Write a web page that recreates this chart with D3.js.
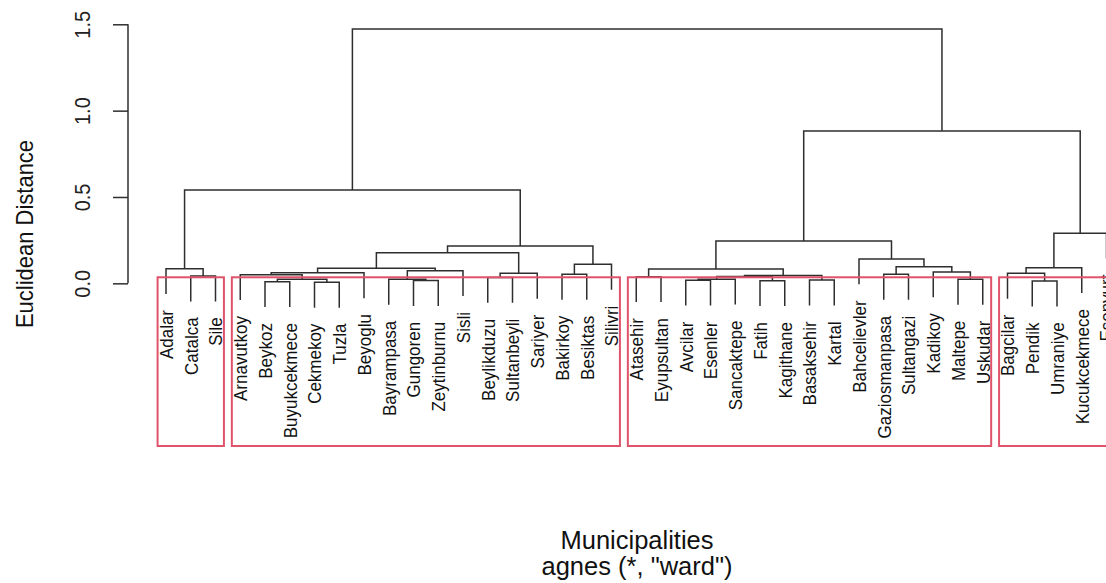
<!DOCTYPE html>
<html>
<head>
<meta charset="utf-8">
<script src="https://cdn.jsdelivr.net/npm/d3@7"></script>
<style>
  html, body { margin: 0; padding: 0; background: #fff; }
  svg { display: block; font-family: "Liberation Sans", Arial, Helvetica, sans-serif; }
</style>
</head>
<body>
<svg id="chart" width="1106" height="583"></svg>
<script>
// Leaf order of the dendrogram (left to right)
const labels = [
  "Adalar", "Catalca", "Sile",
  "Arnavutkoy", "Beykoz", "Buyukcekmece", "Cekmekoy", "Tuzla", "Beyoglu",
  "Bayrampasa", "Gungoren", "Zeytinburnu", "Sisli", "Beylikduzu", "Sultanbeyli",
  "Sariyer", "Bakirkoy", "Besiktas", "Silivri",
  "Atasehir", "Eyupsultan", "Avcilar", "Esenler", "Sancaktepe", "Fatih",
  "Kagithane", "Basaksehir", "Kartal", "Bahcelievler", "Gaziosmanpasa",
  "Sultangazi", "Kadikoy", "Maltepe", "Uskudar",
  "Bagcilar", "Pendik", "Umraniye", "Kucukcekmece", "Esenyurt"
];

// Merge table (hclust style): negative = leaf number (1-based in labels),
// positive = an earlier merge step (1-based)
const merges = [
  [-7, -8],    // 1  Cekmekoy + Tuzla
  [-5, -6],    // 2  Beykoz + Buyukcekmece
  [-36, -37],  // 3  Pendik + Umraniye
  [-25, -26],  // 4  Fatih + Kagithane
  [-11, -12],  // 5  Gungoren + Zeytinburnu
  [-22, -23],  // 6  Avcilar + Esenler
  [-27, -28],  // 7  Basaksehir + Kartal
  [2, 1],      // 8
  [-10, 5],    // 9
  [6, -24],    // 10
  [-33, -34],  // 11 Maltepe + Uskudar
  [-14, -15],  // 12 Beylikduzu + Sultanbeyli
  [-20, -21],  // 13 Atasehir + Eyupsultan
  [10, 4],     // 14
  [-2, -3],    // 15 Catalca + Sile
  [14, 7],     // 16
  [-4, 8],     // 17
  [-30, -31],  // 18 Gaziosmanpasa + Sultangazi
  [-17, -18],  // 19 Bakirkoy + Besiktas
  [12, -16],   // 20
  [-35, 3],    // 21
  [17, -9],    // 22
  [-32, 11],   // 23
  [9, -13],    // 24
  [13, 16],    // 25
  [-1, 15],    // 26
  [22, 24],    // 27
  [21, -38],   // 28
  [18, 23],    // 29
  [19, -19],   // 30
  [-29, 29],   // 31
  [27, 20],    // 32
  [32, 30],    // 33
  [25, 31],    // 34
  [28, -39],   // 35
  [26, 33],    // 36
  [34, 35],    // 37
  [36, 37]     // 38
];

// Height of each merge step
const heights = [
  0.006, 0.009, 0.013, 0.015, 0.016, 0.018, 0.019, 0.023, 0.023, 0.024,
  0.023, 0.034, 0.038, 0.040, 0.042, 0.046, 0.050, 0.052, 0.052, 0.058,
  0.058, 0.061, 0.066, 0.073, 0.083, 0.085, 0.087, 0.090, 0.096, 0.110,
  0.141, 0.177, 0.216, 0.245, 0.290, 0.540, 0.882, 1.473
];

// Number of leaves in each of the four highlighted groups (left to right)
const clusterSizes = [3, 16, 15, 5];
const cutHeight = 0.035;
const hang = 0.1;

const yTicks = [0, 0.5, 1.0, 1.5];
const yTitle = "Euclidean Distance";
const xTitle = "Municipalities";
const subTitle = 'agnes (*, "ward")';

// ---------------------------------------------------------------
const svg = d3.select("#chart");
const axisX = 128;
const lineColor = "#2e2e2e";

const x = d3.scaleLinear().domain([0, labels.length - 1]).range([166, 1106.5]);
const y = d3.scaleLinear().domain([-0.942, 1.5]).range([446, 24.3]);

const hangAmt = hang * (d3.max(heights) - d3.min(heights));

// x position of every merge = midpoint of its two children
const nodeX = [];
merges.forEach(([a, b], k) => {
  const xa = a < 0 ? x(-a - 1) : nodeX[a - 1];
  const xb = b < 0 ? x(-b - 1) : nodeX[b - 1];
  nodeX[k] = (xa + xb) / 2;
});

// Leaf hanging ends
const leafBottom = new Array(labels.length);
merges.forEach(([a, b], k) => {
  [a, b].forEach(c => { if (c < 0) leafBottom[-c - 1] = heights[k] - hangAmt; });
});

function childPos(c) {
  return c < 0
    ? { cx: x(-c - 1), ch: leafBottom[-c - 1] }
    : { cx: nodeX[c - 1], ch: heights[c - 1] };
}

// Dendrogram branches
const gTree = svg.append("g")
  .attr("fill", "none")
  .attr("stroke", lineColor)
  .attr("stroke-width", 1.5);

gTree.selectAll("path")
  .data(merges)
  .join("path")
  .attr("d", ([a, b], k) => {
    const A = childPos(a), B = childPos(b), h = y(heights[k]);
    return `M${A.cx},${y(A.ch)}V${h}H${B.cx}V${y(B.ch)}`;
  });

// Leaf labels (vertical, reading upward)
svg.append("g")
  .attr("font-size", 17)
  .attr("fill", "#111")
  .selectAll("text")
  .data(labels)
  .join("text")
  .attr("transform", (d, i) =>
    `translate(${x(i)},${y(leafBottom[i]) + 16}) rotate(-90) scale(1,1.12)`)
  .attr("text-anchor", "end")
  .attr("dy", "0.36em")
  .text(d => d);

// Group rectangles
let start = 0;
const rects = clusterSizes.map(n => {
  const r = { s: start, e: start + n - 1 };
  start += n;
  return r;
});
svg.append("g")
  .attr("fill", "none")
  .attr("stroke", "#DF536B")
  .attr("stroke-width", 2)
  .selectAll("rect")
  .data(rects)
  .join("rect")
  .attr("x", d => x(d.s - 0.34))
  .attr("width", d => x(d.e + 0.34) - x(d.s - 0.34))
  .attr("y", y(cutHeight))
  .attr("height", y.range()[0] - y(cutHeight));

// Y axis
const axis = d3.axisLeft(y)
  .tickValues(yTicks)
  .tickFormat(d3.format(".1f"))
  .tickSize(15)
  .tickSizeOuter(0);

const gAxis = svg.append("g")
  .attr("transform", `translate(${axisX},0)`)
  .call(axis);

gAxis.select(".domain")
  .attr("d", `M0,${y(yTicks[0])}V${y(yTicks[yTicks.length - 1])}`)
  .attr("stroke", lineColor)
  .attr("stroke-width", 1.5);
gAxis.selectAll(".tick line").attr("stroke", lineColor).attr("stroke-width", 1.5);
gAxis.selectAll(".tick text")
  .attr("x", null).attr("dy", null)
  .attr("transform", "translate(-38,0) rotate(-90) scale(1,1.08)")
  .attr("text-anchor", "middle")
  .attr("font-size", 20)
  .attr("font-family", "Liberation Sans, Arial, sans-serif")
  .attr("fill", "#222");

// Titles
svg.append("text")
  .attr("transform", "translate(33,234) rotate(-90) scale(1,1.08)")
  .attr("text-anchor", "middle")
  .attr("font-size", 22)
  .attr("fill", "#111")
  .text(yTitle);

svg.append("text")
  .attr("x", 637).attr("y", 549)
  .attr("text-anchor", "middle")
  .attr("font-size", 25.5)
  .attr("fill", "#111")
  .text(xTitle);

svg.append("text")
  .attr("x", 637).attr("y", 575)
  .attr("text-anchor", "middle")
  .attr("font-size", 25.5)
  .attr("fill", "#111")
  .text(subTitle);
</script>
</body>
</html>
